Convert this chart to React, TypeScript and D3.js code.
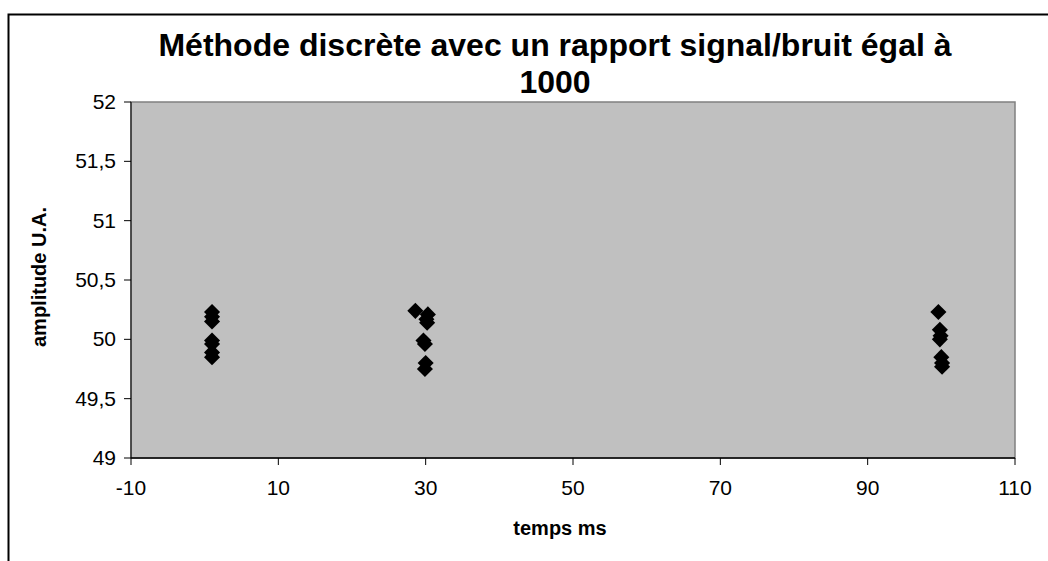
import React from "react";
import * as d3 from "d3";

const titleLines = ["Méthode discrète avec un rapport signal/bruit égal à", "1000"];
const xTicks = [-10, 10, 30, 50, 70, 90, 110];
const yTicks = [49, 49.5, 50, 50.5, 51, 51.5, 52];
const pointsX = [1, 1, 1, 1, 1, 1, 1, 28.6, 30.3, 30.1, 30.2, 29.7, 29.9, 30, 29.9, 99.6, 99.8, 99.9, 99.8, 100, 100.1, 100.1];
const pointsY = [50.23, 50.19, 50.15, 49.99, 49.96, 49.89, 49.85, 50.24, 50.21, 50.17, 50.14, 49.99, 49.96, 49.8, 49.75, 50.23, 50.08, 50.03, 50.0, 49.85, 49.8, 49.77];

export default function App() {
  const left = 131, right = 1015, top = 102, bottom = 458;
  const x = d3.scaleLinear().domain([-10, 110]).range([left, right]);
  const y = d3.scaleLinear().domain([49, 52]).range([bottom, top]);
  const diamond = d3.symbol().type(d3.symbolDiamond2).size(165)()!;
  const fmt = (v: number) => String(v).replace(".", ",");
  return (
    <svg width={1048} height={561} style={{ position: "absolute", left: 0, top: 0, fontFamily: "Liberation Sans, Arial, sans-serif" }}>
      <rect x={0} y={0} width={1048} height={561} fill="#fff" />
      <path d="M8.5,570 L8.5,14.5 L1060,14.5" fill="none" stroke="#000" strokeWidth={2} />
      <rect x={left} y={top} width={right - left} height={bottom - top} fill="#c0c0c0" stroke="#808080" strokeWidth={1.5} />
      {titleLines.map((t, i) => (
        <text key={i} x={555} y={56 + i * 37} textAnchor="middle" fontSize={32} fontWeight="bold">{t}</text>
      ))}
      <line x1={left} x2={left} y1={top} y2={bottom} stroke="#000" />
      <line x1={left} x2={right} y1={bottom} y2={bottom} stroke="#000" strokeWidth={1.5} />
      {yTicks.map((v) => (
        <g key={v}>
          <line x1={left - 7} x2={left} y1={y(v)} y2={y(v)} stroke="#000" />
          <text x={left - 15} y={y(v) + 7} textAnchor="end" fontSize={21}>{fmt(v)}</text>
        </g>
      ))}
      {xTicks.map((v) => (
        <g key={v}>
          <line x1={x(v)} x2={x(v)} y1={bottom} y2={bottom + 7} stroke="#000" />
          <text x={x(v)} y={bottom + 37} textAnchor="middle" fontSize={21}>{fmt(v)}</text>
        </g>
      ))}
      <text x={560} y={535} textAnchor="middle" fontSize={20} fontWeight="bold">temps ms</text>
      <text transform="translate(46,277) rotate(-90)" textAnchor="middle" fontSize={20} fontWeight="bold">amplitude U.A.</text>
      {pointsX.map((px, i) => (
        <path key={i} d={diamond} transform={`translate(${x(px)},${y(pointsY[i])})`} fill="#000" />
      ))}
    </svg>
  );
}
